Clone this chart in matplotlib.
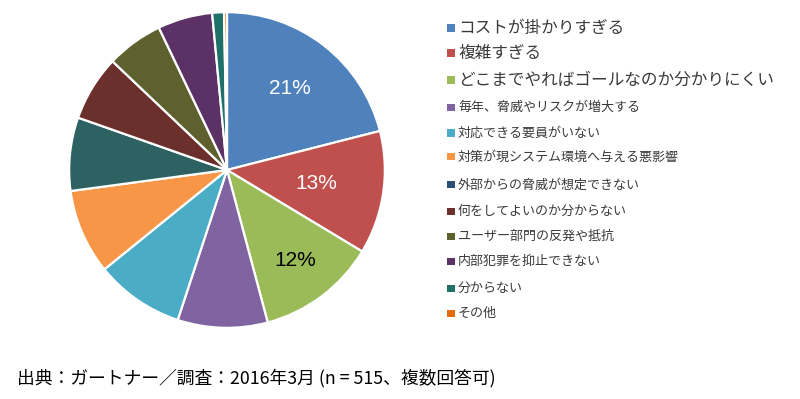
import matplotlib.pyplot as plt
from matplotlib.patches import Rectangle
import numpy as np

plt.rcParams['font.family'] = ['Noto Sans CJK JP', 'DejaVu Sans']

# 回答項目と割合 (%)
labels = [
    "コストが掛かりすぎる",
    "複雑すぎる",
    "どこまでやればゴールなのか分かりにくい",
    "毎年、脅威やリスクが増大する",
    "対応できる要員がいない",
    "対策が現システム環境へ与える悪影響",
    "外部からの脅威が想定できない",
    "何をしてよいのか分からない",
    "ユーザー部門の反発や抵抗",
    "内部犯罪を抑止できない",
    "分からない",
    "その他",
]
shares = [21.0, 12.6, 12.2, 9.2, 9.1, 8.7, 7.5, 6.7, 5.8, 5.6, 1.2, 0.3]
colors = ["#4F81BD", "#C0504D", "#9BBB59", "#8064A2", "#4BACC6", "#F79646",
          "#2E6262", "#6B2F2C", "#5E602E", "#5C3166", "#1F7068", "#E46C0A"]
# 凡例の四角 (元画像では「外部」だけ紺色)
legend_colors = colors[:6] + ["#2C4D75"] + colors[7:]
shown_pct = ["21%", "13%", "12%"]
pct_colors = ["white", "white", "black"]
pct_dist = [0.65, 0.57, 0.72]
note = "出典：ガートナー／調査：2016年3月 (n = 515、複数回答可)"

W, H = 800, 399
fig = plt.figure(figsize=(8, 3.99), dpi=100)

# 円グラフ (中心 227,170 / 半径 161 px)
cx, cy, r = 227, 170, 161
ax = fig.add_axes([(cx - r) / W, (H - cy - r) / H, 2 * r / W, 2 * r / H])
wedges, _ = ax.pie(shares, colors=colors, startangle=90, counterclock=False,
                   wedgeprops=dict(edgecolor="white", linewidth=1.6))
ax.set_aspect("equal")
ax.set_xlim(-1.02, 1.02)
ax.set_ylim(-1.02, 1.02)

for w, txt, c, d in zip(wedges, shown_pct, pct_colors, pct_dist):
    ang = np.deg2rad((w.theta1 + w.theta2) / 2)
    ax.text(d * np.cos(ang), d * np.sin(ang), txt, color=c,
            fontsize=15, family=["Liberation Sans", "DejaVu Sans"],
            ha="center", va="center")

# 凡例
leg_y = [28, 53, 80, 107, 133, 157, 185, 211, 236, 261, 288, 313]
for i, (lab, col, y) in enumerate(zip(labels, legend_colors, leg_y)):
    size = 12 if i < 3 else 9.4
    sq = 7
    fig.add_artist(Rectangle(((451 - sq / 2) / W, (H - y - sq / 2) / H),
                             sq / W, sq / H, transform=fig.transFigure,
                             facecolor=col, edgecolor="none"))
    fig.text(458 / W, (H - y) / H, lab, fontsize=size, color="#3a3a3a",
             ha="left", va="center")

fig.text(17 / W, (H - 378) / H, note, fontsize=12.8, color="black",
         ha="left", va="center")

fig.savefig("out.png", dpi=100)
